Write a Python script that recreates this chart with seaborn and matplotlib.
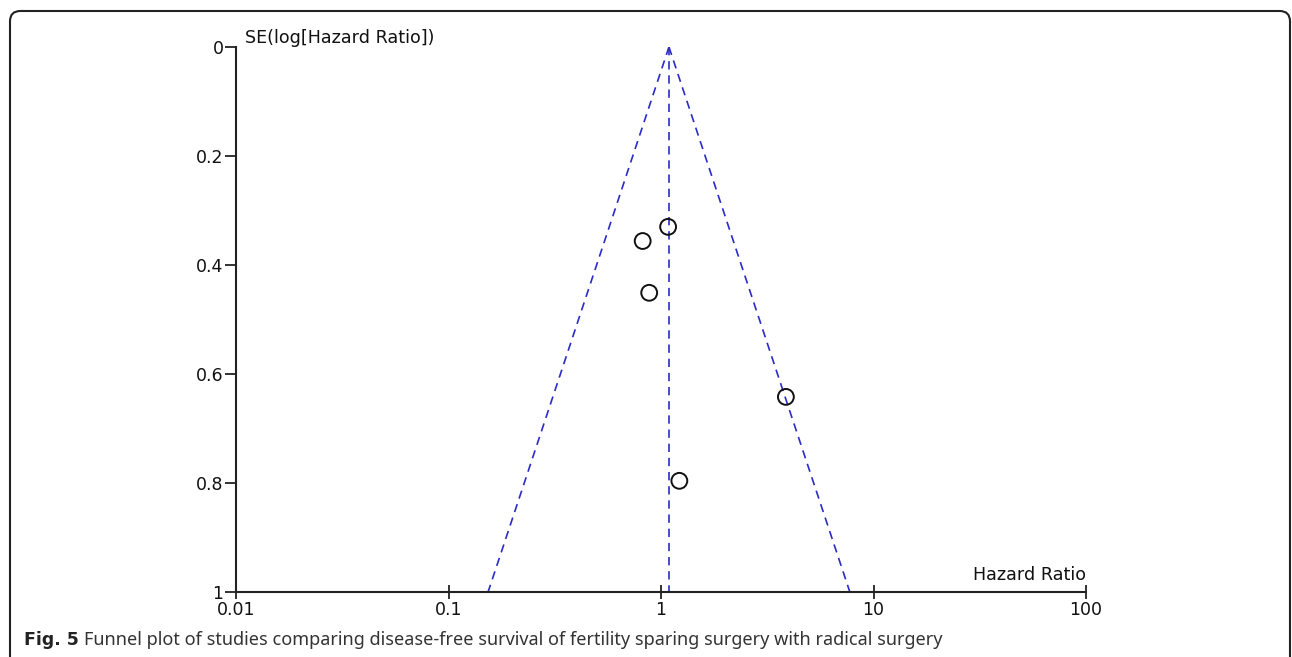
import numpy as np
import pandas as pd
import matplotlib
matplotlib.use("Agg")
import matplotlib.pyplot as plt
from matplotlib.patches import FancyBboxPatch
import seaborn as sns

# Study estimates
hazard_ratio = [1.08, 0.82, 0.88, 3.87, 1.22]
se_log_hr = [0.330, 0.356, 0.451, 0.642, 0.796]
pooled_hr = 1.09

x_ticks = [0.01, 0.1, 1, 10, 100]
x_tick_labels = ["0.01", "0.1", "1", "10", "100"]
y_ticks = [0, 0.2, 0.4, 0.6, 0.8, 1]
y_tick_labels = ["0", "0.2", "0.4", "0.6", "0.8", "1"]

df = pd.DataFrame({"HR": hazard_ratio, "SE": se_log_hr})

sns.set_style("white")
plt.rcParams["font.family"] = ["DejaVu Sans"]

fig = plt.figure(figsize=(12.92, 6.57), dpi=100)
ax = fig.add_axes([236 / 1292, 1 - 592 / 657, 850 / 1292, 545 / 657])

# funnel (pseudo 95% confidence limits)
se_line = np.array([0.0, 1.0])
lo = np.exp(np.log(pooled_hr) - 1.96 * se_line)
hi = np.exp(np.log(pooled_hr) + 1.96 * se_line)
funnel_col = "#2b2bc8"
dash = (5, 3.5)
ax.plot(lo, se_line, color=funnel_col, lw=1.2, dashes=dash)
ax.plot(hi, se_line, color=funnel_col, lw=1.2, dashes=dash)
ax.plot([pooled_hr, pooled_hr], [0, 1], color=funnel_col, lw=1.2, dashes=dash)

sns.scatterplot(data=df, x="HR", y="SE", ax=ax, marker="o", s=130,
                facecolor="none", edgecolor="#111111", linewidth=1.4, zorder=3)

ax.set_xscale("log")
ax.set_xlim(0.01, 100)
ax.set_ylim(1, 0)
ax.set_xticks(x_ticks)
ax.set_xticklabels(x_tick_labels)
ax.minorticks_off()
ax.set_yticks(y_ticks)
ax.set_yticklabels(y_tick_labels)
ax.set_xlabel("")
ax.set_ylabel("")

for side in ["top", "right"]:
    ax.spines[side].set_visible(False)
for side in ["left", "bottom"]:
    ax.spines[side].set_linewidth(1.5)
    ax.spines[side].set_color("#222222")

ax.tick_params(axis="x", bottom=True, direction="inout", length=10, width=1.3,
               color="#222222", labelsize=12.5, pad=1.5, labelcolor="#111111")
ax.tick_params(axis="y", left=True, direction="out", length=8, width=1.3,
               color="#222222", labelsize=12.5, pad=1, labelcolor="#111111")
ax.patch.set_alpha(0)

ax.text(0.011, 0.0, "SE(log[Hazard Ratio])", transform=ax.transData,
        fontsize=12.6, ha="left", va="bottom", color="#111111")
ax.text(100, 0.985, "Hazard Ratio", fontsize=12.6, ha="right", va="bottom",
        color="#111111")

# caption and frame
fig.text(24 / 1292, 1 - 640 / 657, "Fig. 5", fontsize=12.5, fontweight="bold",
         family="DejaVu Sans", va="center", ha="left", color="#222222")
fig.text(84 / 1292, 1 - 640 / 657,
         "Funnel plot of studies comparing disease-free survival of fertility sparing surgery with radical surgery",
         fontsize=13, family="Noto Sans", va="center", ha="left", color="#333333")

frame = FancyBboxPatch((10 / 1292, -0.2), 1280 / 1292, 1 - 11 / 657 + 0.2,
                       boxstyle="round,pad=0,rounding_size=0.008",
                       transform=fig.transFigure, fill=False,
                       edgecolor="#222222", lw=1.5, mutation_aspect=1292 / 657)
fig.patches.append(frame)

plt.savefig("out.png", dpi=100)
